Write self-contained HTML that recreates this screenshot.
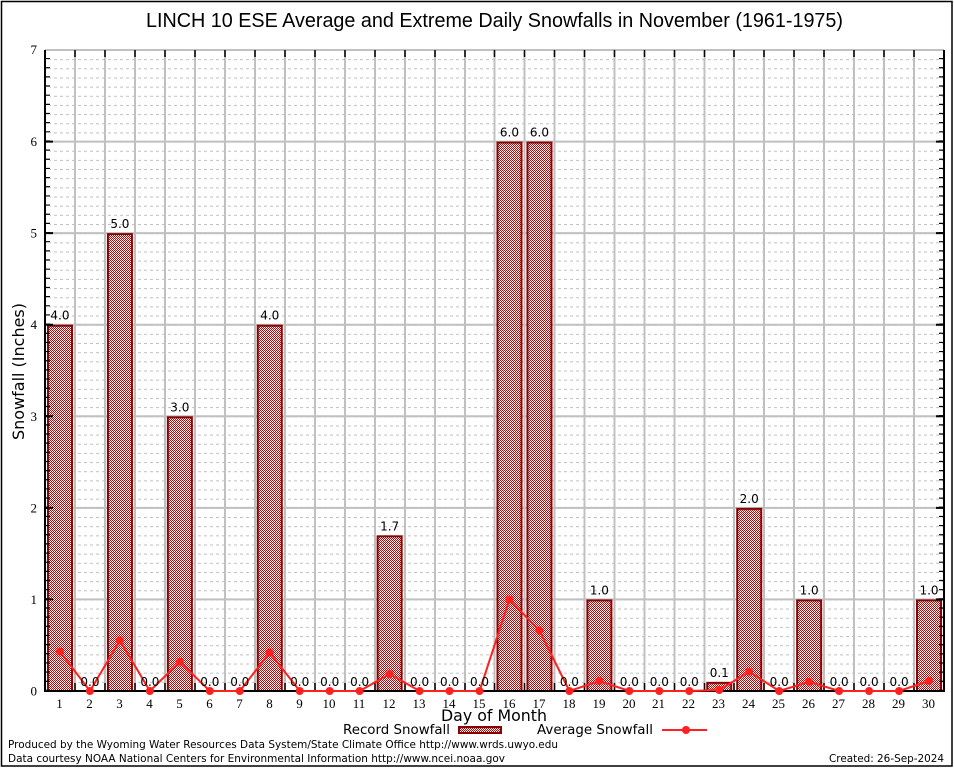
<!DOCTYPE html>
<html><head><meta charset="utf-8"><style>
html,body{margin:0;padding:0;background:#fff;}
svg{display:block;}
</style></head><body>
<svg width="954" height="768" viewBox="0 0 954 768" xmlns="http://www.w3.org/2000/svg">
<defs>
<pattern id="chk" x="0" y="0" width="2" height="2" patternUnits="userSpaceOnUse">
<rect x="0" y="0" width="2" height="2" fill="#ffffff"/>
<rect x="0" y="0" width="1" height="1" fill="#cc0000"/>
<rect x="1" y="1" width="1" height="1" fill="#cc0000"/>
</pattern>
<pattern id="minor" x="0" y="50" width="6" height="9.157143" patternUnits="userSpaceOnUse">
<rect x="0" y="0" width="3" height="1" fill="#c0c0c0"/>
</pattern>
</defs>
<rect x="0" y="0" width="954" height="768" fill="#fff"/>
<rect x="1.5" y="1.5" width="950.5" height="764.5" fill="none" stroke="#000" stroke-width="1.5"/>

<text x="494.5" y="27" font-family="Liberation Sans, sans-serif" font-size="20" text-anchor="middle" textLength="697" lengthAdjust="spacingAndGlyphs">LINCH 10 ESE Average and Extreme Daily Snowfalls in November (1961-1975)</text>

<!-- minor dashed grid -->
<rect x="50" y="50" width="894" height="641" fill="url(#minor)"/>
<!-- major horizontal grid -->
<path d="M45 599.43H944M45 507.86H944M45 416.29H944M45 324.71H944M45 233.14H944M45 141.57H944M45 50H944" stroke="#c0c0c0" stroke-width="2" fill="none"/>
<!-- vertical grid -->
<path d="M75 50V691M105 50V691M135 50V691M165 50V691M195 50V691M225 50V691M255 50V691M285 50V691M315 50V691M345 50V691M375 50V691M405 50V691M435 50V691M465 50V691M494.5 50V691M524.5 50V691M554.5 50V691M584.5 50V691M614.5 50V691M644.5 50V691M674.5 50V691M704.5 50V691M734 50V691M764 50V691M794 50V691M824 50V691M854 50V691M884 50V691M914 50V691" stroke="#c0c0c0" stroke-width="2" fill="none"/>

<!-- bars -->
<g fill="url(#chk)" stroke="#8b0000" stroke-width="2">
<rect x="47.98" y="325.71" width="24" height="365.29"/>
<rect x="107.92" y="234.14" width="24" height="456.86"/>
<rect x="167.85" y="417.29" width="24" height="273.71"/>
<rect x="257.75" y="325.71" width="24" height="365.29"/>
<rect x="377.62" y="536.33" width="24" height="154.67"/>
<rect x="497.48" y="142.57" width="24" height="548.43"/>
<rect x="527.45" y="142.57" width="24" height="548.43"/>
<rect x="587.38" y="600.43" width="24" height="90.57"/>
<rect x="707.25" y="682.84" width="24" height="8.16"/>
<rect x="737.22" y="508.86" width="24" height="182.14"/>
<rect x="797.15" y="600.43" width="24" height="90.57"/>
<rect x="917.02" y="600.43" width="24" height="90.57"/>
</g>

<!-- axes -->
<path d="M45 50V692M44 691H945M944 50V692" stroke="#000" stroke-width="2" fill="none"/>
<!-- minor ticks left/right -->
<path d="M47.5 691V50" stroke="#000" stroke-width="5" stroke-dasharray="1.2 7.957143" fill="none"/>
<path d="M941.5 691V50" stroke="#000" stroke-width="5" stroke-dasharray="1.2 7.957143" fill="none"/>
<path d="M45 599.43H53M45 507.86H53M45 416.29H53M45 324.71H53M45 233.14H53M45 141.57H53M936 599.43H944M936 507.86H944M936 416.29H944M936 324.71H944M936 233.14H944M936 141.57H944" stroke="#000" stroke-width="2" fill="none"/>
<!-- top/bottom ticks -->
<path d="M75 683V691M105 683V691M135 683V691M165 683V691M195 683V691M225 683V691M255 683V691M285 683V691M315 683V691M345 683V691M375 683V691M405 683V691M435 683V691M465 683V691M494.5 683V691M524.5 683V691M554.5 683V691M584.5 683V691M614.5 683V691M644.5 683V691M674.5 683V691M704.5 683V691M734 683V691M764 683V691M794 683V691M824 683V691M854 683V691M884 683V691M914 683V691" stroke="#000" stroke-width="1.5" fill="none"/>
<path d="M75 50V57M105 50V57M135 50V57M165 50V57M195 50V57M225 50V57M255 50V57M285 50V57M315 50V57M345 50V57M375 50V57M405 50V57M435 50V57M465 50V57M494.5 50V57M524.5 50V57M554.5 50V57M584.5 50V57M614.5 50V57M644.5 50V57M674.5 50V57M704.5 50V57M734 50V57M764 50V57M794 50V57M824 50V57M854 50V57M884 50V57M914 50V57" stroke="#000" stroke-width="1.5" fill="none"/>

<!-- average line -->
<polyline fill="none" stroke="#ff2020" stroke-width="2" points="59.98,651.6 89.95,691 119.92,640.5 149.88,691 179.85,661.8 209.82,691 239.78,691 269.75,652.5 299.72,691 329.68,691 359.65,691 389.62,674 419.58,691 449.55,691 479.52,691 509.48,599.6 539.45,630.6 569.42,691 599.38,681 629.35,691 659.32,691 689.28,691 719.25,690 749.22,671.7 779.18,691 809.15,681.8 839.12,691 869.08,691 899.05,691 929.02,681"/>
<g fill="#ff2020">
<circle cx="59.98" cy="651.6" r="4"/><circle cx="89.95" cy="691" r="4"/><circle cx="119.92" cy="640.5" r="4"/><circle cx="149.88" cy="691" r="4"/><circle cx="179.85" cy="661.8" r="4"/><circle cx="209.82" cy="691" r="4"/><circle cx="239.78" cy="691" r="4"/><circle cx="269.75" cy="652.5" r="4"/><circle cx="299.72" cy="691" r="4"/><circle cx="329.68" cy="691" r="4"/><circle cx="359.65" cy="691" r="4"/><circle cx="389.62" cy="674" r="4"/><circle cx="419.58" cy="691" r="4"/><circle cx="449.55" cy="691" r="4"/><circle cx="479.52" cy="691" r="4"/><circle cx="509.48" cy="599.6" r="4"/><circle cx="539.45" cy="630.6" r="4"/><circle cx="569.42" cy="691" r="4"/><circle cx="599.38" cy="681" r="4"/><circle cx="629.35" cy="691" r="4"/><circle cx="659.32" cy="691" r="4"/><circle cx="689.28" cy="691" r="4"/><circle cx="719.25" cy="690" r="4"/><circle cx="749.22" cy="671.7" r="4"/><circle cx="779.18" cy="691" r="4"/><circle cx="809.15" cy="681.8" r="4"/><circle cx="839.12" cy="691" r="4"/><circle cx="869.08" cy="691" r="4"/><circle cx="899.05" cy="691" r="4"/><circle cx="929.02" cy="681" r="4"/>
</g>

<!-- value labels -->
<g font-family="DejaVu Sans, sans-serif" font-size="12" text-anchor="middle" fill="#000">
<text x="59.98" y="319.7">4.0</text>
<text x="89.95" y="686">0.0</text>
<text x="119.92" y="228.1">5.0</text>
<text x="149.88" y="686">0.0</text>
<text x="179.85" y="411.3">3.0</text>
<text x="209.82" y="686">0.0</text>
<text x="239.78" y="686">0.0</text>
<text x="269.75" y="319.7">4.0</text>
<text x="299.72" y="686">0.0</text>
<text x="329.68" y="686">0.0</text>
<text x="359.65" y="686">0.0</text>
<text x="389.62" y="530.3">1.7</text>
<text x="419.58" y="686">0.0</text>
<text x="449.55" y="686">0.0</text>
<text x="479.52" y="686">0.0</text>
<text x="509.48" y="136.6">6.0</text>
<text x="539.45" y="136.6">6.0</text>
<text x="569.42" y="686">0.0</text>
<text x="599.38" y="594.4">1.0</text>
<text x="629.35" y="686">0.0</text>
<text x="659.32" y="686">0.0</text>
<text x="689.28" y="686">0.0</text>
<text x="719.25" y="676.8">0.1</text>
<text x="749.22" y="502.9">2.0</text>
<text x="779.18" y="686">0.0</text>
<text x="809.15" y="594.4">1.0</text>
<text x="839.12" y="686">0.0</text>
<text x="869.08" y="686">0.0</text>
<text x="899.05" y="686">0.0</text>
<text x="929.02" y="594.4">1.0</text>
</g>

<!-- y tick labels -->
<g font-family="Liberation Serif, serif" font-size="13" text-anchor="end" fill="#000">
<text x="37" y="695.5">0</text>
<text x="37" y="603.9">1</text>
<text x="37" y="512.4">2</text>
<text x="37" y="420.8">3</text>
<text x="37" y="329.2">4</text>
<text x="37" y="237.6">5</text>
<text x="37" y="146.1">6</text>
<text x="37" y="54">7</text>
</g>
<!-- x tick labels -->
<g font-family="Liberation Serif, serif" font-size="13" text-anchor="middle" fill="#000">
<text x="59.5" y="708">1</text><text x="89.5" y="708">2</text><text x="119.5" y="708">3</text><text x="149.5" y="708">4</text><text x="179.5" y="708">5</text><text x="209.5" y="708">6</text><text x="239.5" y="708">7</text><text x="269.5" y="708">8</text><text x="299.5" y="708">9</text><text x="329" y="708">10</text><text x="359" y="708">11</text><text x="389" y="708">12</text><text x="419" y="708">13</text><text x="449" y="708">14</text><text x="479" y="708">15</text><text x="509" y="708">16</text><text x="539" y="708">17</text><text x="569" y="708">18</text><text x="599" y="708">19</text><text x="629" y="708">20</text><text x="658.5" y="708">21</text><text x="688.5" y="708">22</text><text x="718.5" y="708">23</text><text x="748.5" y="708">24</text><text x="778.5" y="708">25</text><text x="808.5" y="708">26</text><text x="838.5" y="708">27</text><text x="868.5" y="708">28</text><text x="898.5" y="708">29</text><text x="928.5" y="708">30</text>
</g>

<text x="494" y="721" font-family="DejaVu Sans, sans-serif" font-size="16" text-anchor="middle" textLength="106" lengthAdjust="spacingAndGlyphs">Day of Month</text>
<text transform="translate(24,371.5) rotate(-90)" font-family="DejaVu Sans, sans-serif" font-size="16" text-anchor="middle" textLength="137" lengthAdjust="spacingAndGlyphs">Snowfall (Inches)</text>

<!-- legend -->
<text x="343" y="734" font-family="DejaVu Sans, sans-serif" font-size="13.3" textLength="107" lengthAdjust="spacingAndGlyphs">Record Snowfall</text>
<rect x="459" y="727" width="42" height="6" fill="url(#chk)" stroke="#8b0000" stroke-width="2"/>
<text x="537" y="734" font-family="DejaVu Sans, sans-serif" font-size="13.3" textLength="116" lengthAdjust="spacingAndGlyphs">Average Snowfall</text>
<path d="M662 730H707" stroke="#ff2020" stroke-width="2"/>
<circle cx="686" cy="730" r="4" fill="#ff2020"/>

<!-- footer -->
<g font-family="DejaVu Sans, sans-serif" font-size="11" fill="#000">
<text x="8" y="748" textLength="550" lengthAdjust="spacingAndGlyphs">Produced by the Wyoming Water Resources Data System/State Climate Office http://www.wrds.uwyo.edu</text>
<text x="8" y="762" textLength="497" lengthAdjust="spacingAndGlyphs">Data courtesy NOAA National Centers for Environmental Information http://www.ncei.noaa.gov</text>
<text x="944" y="762" text-anchor="end" textLength="115" lengthAdjust="spacingAndGlyphs">Created: 26-Sep-2024</text>
</g>
</svg>
</body></html>
